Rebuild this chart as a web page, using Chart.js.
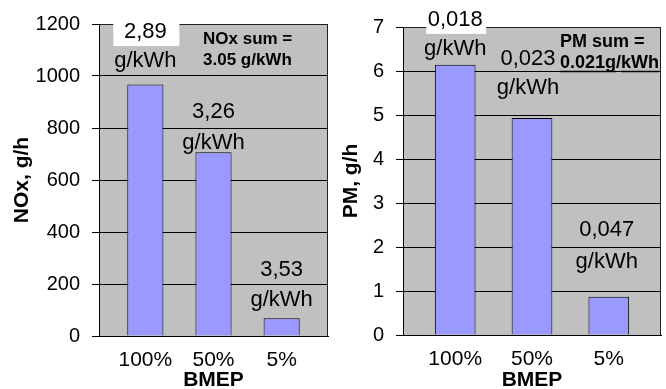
<!DOCTYPE html>
<html>
<head>
<meta charset="utf-8">
<script src="https://cdn.jsdelivr.net/npm/chart.js@4/dist/chart.umd.min.js"></script>
<style>
  html, body { margin: 0; padding: 0; background: #fff; overflow: hidden; }
  #wrap { display: flex; width: 666px; height: 389px; overflow: hidden; }
  canvas { display: block; }
</style>
</head>
<body>
<div id="wrap">
  <canvas id="nox" width="333" height="400"></canvas>
  <canvas id="pm" width="333" height="400"></canvas>
</div>
<script>
// Load points (BMEP) and measured emission rates
const categories = ['100%', '50%', '5%'];
const noxValues = [967, 707, 68];        // g/h
const pmValues = [6.14, 4.93, 0.87];     // g/h
const noxSpecific = ['2,89', '3,26', '3,53'];
const pmSpecific = ['0,018', '0,023', '0,047'];
const specificUnit = 'g/kWh';
const noxSum = ['NOx sum =', '3.05 g/kWh'];
const pmSum = ['PM sum =', '0.021g/kWh'];
const noxAxis = { min: 0, max: 1200, step: 200, title: 'NOx, g/h' };
const pmAxis = { min: 0, max: 7, step: 1, title: 'PM, g/h' };
const xTitle = 'BMEP';

const FONT = '"Liberation Sans", Arial, Helvetica, sans-serif';

// Grey plot area with a thin frame on the top and right
const plotFrame = {
  id: 'plotFrame',
  beforeDraw(chart) {
    const { ctx, chartArea: a } = chart;
    ctx.save();
    ctx.fillStyle = '#C0C0C0';
    ctx.fillRect(a.left, a.top, a.right - a.left, a.bottom - a.top);
    ctx.restore();
  },
  beforeDatasetsDraw(chart) {
    const { ctx, chartArea: a } = chart;
    ctx.save();
    ctx.strokeStyle = '#222';
    ctx.lineWidth = 1;
    ctx.beginPath();
    ctx.moveTo(Math.round(a.left) + 0.5, Math.round(a.top) + 0.5);
    ctx.lineTo(Math.round(a.right) - 0.5, Math.round(a.top) + 0.5);
    ctx.lineTo(Math.round(a.right) - 0.5, Math.round(a.bottom) + 0.5);
    ctx.stroke();
    ctx.restore();
  }
};

// Specific emission (g/kWh) written above each bar
const specificLabels = {
  id: 'specificLabels',
  afterDatasetsDraw(chart, args, opts) {
    const ctx = chart.ctx;
    const bars = chart.getDatasetMeta(0).data;
    ctx.save();
    ctx.font = '22px ' + FONT;
    ctx.textAlign = 'center';
    ctx.textBaseline = 'middle';
    bars.forEach((bar, i) => {
      const [lift1, lift2, dx] = opts.lifts[i];
      const x = bar.x + dx;
      const y1 = bar.y - lift1;
      const y2 = bar.y - lift2;
      const box = opts.boxes[i];
      if (box) {
        ctx.fillStyle = '#fff';
        ctx.fillRect(x - box / 2 + 1, y1 - 11, box, 25);
      }
      ctx.fillStyle = '#000';
      ctx.fillText(opts.texts[i], x, y1);
      ctx.fillText(specificUnit, x, y2);
    });
    ctx.restore();
  }
};

// Cycle-weighted total in the upper right of the plot
const sumNote = {
  id: 'sumNote',
  afterDatasetsDraw(chart, args, opts) {
    const { ctx, chartArea: a } = chart;
    ctx.save();
    ctx.font = 'bold ' + opts.size + 'px ' + FONT;
    ctx.fillStyle = '#000';
    ctx.textAlign = 'left';
    ctx.textBaseline = 'middle';
    const x = a.left + opts.dx;
    opts.lines.forEach((t, i) => ctx.fillText(t, x, a.top + opts.dy[i]));
    if (opts.underline) {
      const t = opts.lines[1];
      const slash = t.indexOf('/');
      const w1 = ctx.measureText(t.slice(0, slash)).width;
      const w2 = ctx.measureText(t.slice(0, slash + 1)).width;
      const w3 = ctx.measureText(t).width;
      const uy = Math.round(a.top + opts.dy[1] + 8) + 0.5;
      ctx.strokeStyle = '#000';
      ctx.lineWidth = 1.5;
      ctx.beginPath();
      ctx.moveTo(x, uy); ctx.lineTo(x + w1, uy);
      ctx.moveTo(x + w2, uy); ctx.lineTo(x + w3, uy);
      ctx.stroke();
    }
    ctx.restore();
  }
};

function makeChart(id, cfg) {
  return new Chart(document.getElementById(id), {
    type: 'bar',
    data: {
      datasets: [{
        data: cfg.values.map((v, i) => ({ x: i + 1, y: v })),
        backgroundColor: '#9999FF',
        borderColor: '#000',
        borderWidth: 1,
        barPercentage: 0.53,
        categoryPercentage: 1
      }]
    },
    options: {
      responsive: false,
      animation: false,
      devicePixelRatio: 1,
      layout: { padding: { top: cfg.padTop, right: 5, left: 0, bottom: 0 } },
      plugins: {
        legend: { display: false },
        tooltip: { enabled: false },
        specificLabels: { texts: cfg.texts, lifts: cfg.lifts, boxes: cfg.boxes },
        sumNote: { lines: cfg.sum, dx: cfg.sumDx, dy: [15, 36], size: cfg.sumSize, underline: cfg.underline }
      },
      scales: {
        x: {
          type: 'linear',
          offset: false,
          min: 0.32,
          max: 3.68,
          afterBuildTicks(scale) { scale.ticks = categories.map((c, i) => ({ value: i + 1 })); },
          afterFit(scale) { scale.height = cfg.xHeight; },
          ticks: {
            callback: v => categories[Math.round(v) - 1],
            font: { family: FONT, size: 21 },
            color: '#000',
            padding: 12,
            autoSkip: false,
            maxRotation: 0
          },
          grid: { display: false, drawTicks: false },
          border: { color: '#000', width: 1 },
          title: {
            display: true,
            text: xTitle,
            color: '#000',
            font: { family: FONT, size: 21, weight: 'bold', lineHeight: 1 },
            padding: { top: 0, bottom: 9 }
          }
        },
        y: {
          min: cfg.axis.min,
          max: cfg.axis.max,
          afterFit(scale) { scale.width = cfg.yWidth; },
          ticks: {
            stepSize: cfg.axis.step,
            callback: v => String(v),
            font: { family: FONT, size: 20 },
            color: '#000',
            padding: 12
          },
          grid: { color: '#000', lineWidth: 1, tickLength: 7 },
          border: { color: '#000', width: 1 },
          title: {
            display: true,
            text: cfg.axis.title,
            color: '#000',
            font: { family: FONT, size: 21, weight: 'bold', lineHeight: 1 },
            padding: { top: cfg.yTitlePad, bottom: 0 }
          }
        }
      }
    },
    plugins: [plotFrame, specificLabels, sumNote]
  });
}

makeChart('nox', {
  values: noxValues,
  axis: noxAxis,
  texts: noxSpecific,
  lifts: [[52.5, 24, 0], [40.5, 9, 0], [48, 18.5, 0]],
  boxes: [66, 0, 0],
  sum: noxSum,
  sumDx: 104,
  sumSize: 17,
  underline: false,
  padTop: 22,
  xHeight: 64,
  yWidth: 99,
  yTitlePad: 11.5
});

makeChart('pm', {
  values: pmValues,
  axis: pmAxis,
  texts: pmSpecific,
  lifts: [[45, 15.5, 0], [59, 30.5, -4], [66.5, 34.5, -2]],
  boxes: [60, 0, 0],
  sum: pmSum,
  sumDx: 157,
  sumSize: 18,
  underline: true,
  padTop: 27,
  xHeight: 65,
  yWidth: 70,
  yTitlePad: 8
});
</script>
</body>
</html>
